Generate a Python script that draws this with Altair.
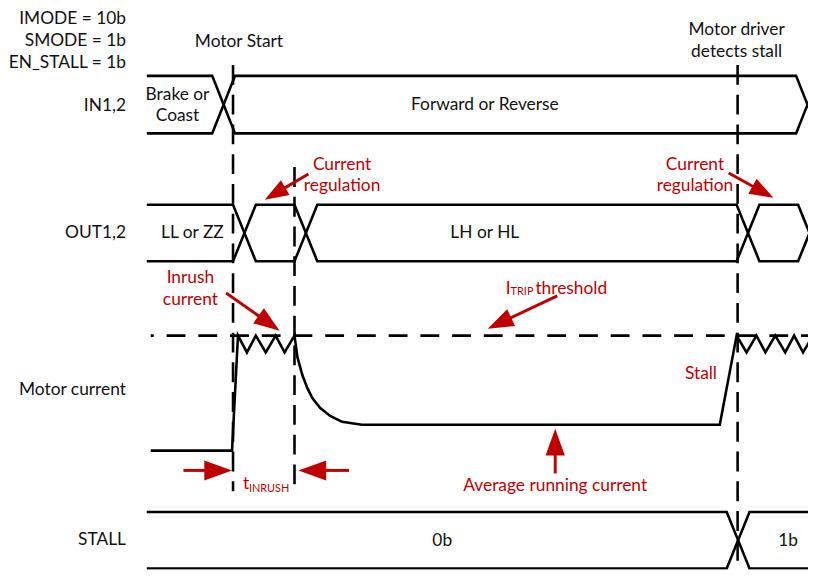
import math
import altair as alt
import pandas as pd

# ---------------- values (picture pixels) ----------------
VIEW_X = [10, 810]     # horizontal band of the picture that is shown
VIEW_Y = [10, 574]     # vertical band of the picture that is shown

X_BEGIN = 143          # where the bus rows start
X_END = 830            # bus rows run past the right edge (clipped)
EDGE_W = 23            # width of a bus transition "X"

IN_HI, IN_LO = 76, 134
OUT_HI, OUT_LO = 206, 263
STALL_HI, STALL_LO = 516, 573
IN_EDGES = [209, 798]
OUT_EDGES = [230, 292, 738, 800]
STALL_EDGES = [728]

# motor current waveform
CUR_X = [147, 229, 235, 244, 253, 263, 273, 282, 292, 295, 300, 305, 310, 318, 328, 340, 360,
         721, 738, 748, 758, 767, 777, 787, 796, 805, 815, 824]
CUR_Y = [454, 454, 338, 355, 338, 355, 338, 355, 338, 360, 378, 391, 401, 411, 419, 425, 428,
         428, 338, 355, 338, 355, 338, 355, 338, 355, 338, 355]

# I_TRIP threshold (dashed)
ITRIP_Y = 338
ITRIP_X = [147, 816]

# vertical dashed event markers
MARK_X = [230, 292, 739]
MARK_TOP = [65, 168, 65]
MARK_BOTTOM = [495, 495, 580]

# text labels
LABEL_TEXT = ["IMODE = 10b", "SMODE = 1b", "EN_STALL = 1b",
              "IN1,2", "OUT1,2", "Motor current", "STALL",
              "Motor Start", "Motor driver", "detects stall",
              "Brake or", "Coast", "Forward or Reverse",
              "LL or ZZ", "LH or HL", "0b", "1b",
              "Current", "regulation", "Current", "regulation",
              "Inrush", "current", "Stall", "Average running current",
              "I", "TRIP", "threshold", "t", "INRUSH"]
LABEL_X = [122, 122, 122,
           122, 122, 122, 122,
           236, 738, 738,
           174, 174, 484,
           189, 484, 441, 790,
           340, 340, 696, 696,
           187, 187, 702, 555,
           505, 510, 535, 240, 246]
LABEL_Y = [19, 41, 63,
           106, 235, 393, 544,
           42, 30, 52,
           95, 117, 105,
           235, 235, 545, 545,
           166, 187, 166, 187,
           280, 302, 377, 490,
           291, 294, 291, 488, 493]
LABEL_ALIGN = ["right"] * 7 + ["center"] * 18 + ["left"] * 5
LABEL_RED = [0] * 17 + [1] * 13
LABEL_SIZE = [17.5] * 25 + [17.5, 11, 17.5, 17.5, 11]

# red arrows: tail -> tip
ARROW_TAIL_X = [306, 730, 223, 557, 555, 180, 347]
ARROW_TAIL_Y = [175, 174, 295, 298, 477, 474, 474]
ARROW_TIP_X = [262, 775, 277, 487, 555, 229, 296]
ARROW_TIP_Y = [201, 199, 333, 331, 432, 474, 474]
ARROW_HEAD = [24, 24, 26, 26, 27, 28, 28]

BLACK = "#000000"
TEXT = "#111111"
RED = "#C00000"
FONT = "Lato"
LW = 2.6

# ---------------- tables ----------------
def bus_rows(name, edges, hi, lo):
    out = []
    for k, start in enumerate((hi, lo)):
        level = start
        pts = [(X_BEGIN, level)]
        for e in edges:
            pts.append((e, level))
            level = lo if level == hi else hi
            pts.append((e + EDGE_W, level))
        pts.append((X_END, level))
        for i, (x, y) in enumerate(pts):
            out.append({"pid": f"{name}{k}", "ord": i, "x": x, "y": y})
    return out

lines = []
lines += bus_rows("in", IN_EDGES, IN_HI, IN_LO)
lines += bus_rows("out", OUT_EDGES, OUT_HI, OUT_LO)
lines += bus_rows("stall", STALL_EDGES, STALL_HI, STALL_LO)
for i, (x, y) in enumerate(zip(CUR_X, CUR_Y)):
    lines.append({"pid": "cur", "ord": i, "x": x, "y": y})
lines_df = pd.DataFrame(lines)

marks_df = pd.DataFrame({"x": MARK_X, "y": MARK_TOP, "y2": MARK_BOTTOM})
itrip_df = pd.DataFrame({"x": [ITRIP_X[0]], "x2": [ITRIP_X[1]], "y": [ITRIP_Y]})

labels_df = pd.DataFrame({
    "x": LABEL_X, "y": LABEL_Y, "text": LABEL_TEXT, "align": LABEL_ALIGN,
    "color": [RED if r else TEXT for r in LABEL_RED], "size": LABEL_SIZE,
})

arrows = []
for tx, ty, px, py, h in zip(ARROW_TAIL_X, ARROW_TAIL_Y, ARROW_TIP_X, ARROW_TIP_Y, ARROW_HEAD):
    dx, dy = px - tx, py - ty
    L = math.hypot(dx, dy)
    ux, uy = dx / L, dy / L
    ang = math.degrees(math.atan2(dx, -dy)) % 360
    arrows.append({"tx": tx, "ty": ty, "sx": px - ux * h * 0.8, "sy": py - uy * h * 0.8,
                   "px": px, "py": py, "angle": ang, "hsize": (2 * h) ** 2})
arrows_df = pd.DataFrame(arrows)

# ---------------- scales (1 data unit = 1 page pixel) ----------------
W = VIEW_X[1] - VIEW_X[0]
H = VIEW_Y[1] - VIEW_Y[0]
xs = alt.Scale(domain=VIEW_X, range=[0, W], nice=False, zero=False)
ys = alt.Scale(domain=VIEW_Y, range=[0, H], nice=False, zero=False)

def X(f):
    return alt.X(f, type="quantitative", scale=xs, axis=None)

def Y(f):
    return alt.Y(f, type="quantitative", scale=ys, axis=None)

wave = alt.Chart(lines_df).mark_line(color=BLACK, strokeWidth=LW, clip=True,
                                     strokeJoin="miter").encode(
    x=X("x"), y=Y("y"), detail="pid:N", order="ord:Q")

vmarks = alt.Chart(marks_df).mark_rule(color=BLACK, strokeWidth=LW, strokeDash=[20, 10],
                                       clip=True).encode(
    x=X("x"), y=Y("y"), y2="y2:Q")

itrip = alt.Chart(itrip_df).mark_rule(color=BLACK, strokeWidth=LW, strokeDash=[19, 13],
                                      strokeDashOffset=16, clip=True).encode(
    x=X("x"), x2="x2:Q", y=Y("y"))

shafts = alt.Chart(arrows_df).mark_rule(color=RED, strokeWidth=3).encode(
    x=X("tx"), y=Y("ty"), x2="sx:Q", y2="sy:Q")

heads = alt.Chart(arrows_df).mark_point(
    shape="M0,0L-0.36,1L0.36,1Z", filled=True, color=RED, opacity=1, strokeWidth=0).encode(
    x=X("px"), y=Y("py"), angle=alt.Angle("angle:Q", scale=None),
    size=alt.Size("hsize:Q", scale=None, legend=None))

def text_layer(align):
    return alt.Chart(labels_df).transform_filter(
        alt.datum.align == align).mark_text(
        align=align, baseline="middle", font=FONT).encode(
        x=X("x"), y=Y("y"), text="text:N",
        color=alt.Color("color:N", scale=None),
        size=alt.Size("size:Q", scale=None, legend=None))

chart = alt.layer(vmarks, itrip, wave, shafts, heads,
                  text_layer("right"), text_layer("center"), text_layer("left")).properties(
    width=W, height=H, padding=0, background="white"
).configure_view(strokeWidth=0)

chart.save("out.html", embed_options={"renderer": "svg", "actions": False})
